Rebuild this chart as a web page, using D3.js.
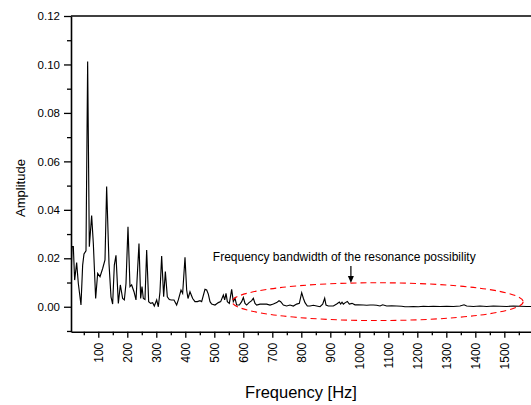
<!DOCTYPE html>
<html>
<head>
<meta charset="utf-8">
<script src="https://cdn.jsdelivr.net/npm/d3@7"></script>
<style>
  html, body { margin: 0; padding: 0; background: #fff; }
  svg { display: block; }
  text { font-family: "Liberation Sans", Arial, sans-serif; fill: #000; }
</style>
</head>
<body>
<svg id="chart" width="531" height="405"></svg>
<script>
// ---- data ----
const freq = [5.9, 9.3, 13.9, 18.5, 25.4, 31.1, 40.3, 46.1, 50.7, 57.6, 63.3, 69.1, 77.1, 82.9, 90.9, 97.8,
  105.9, 115.1, 123.1, 128.8, 136.9, 143.8, 149.5, 155.3, 161.0, 169.1, 176.0, 184.0, 189.8, 195.5,
  202.4, 209.3, 215.0, 223.1, 230.0, 240.3, 246.1, 250.7, 255.3, 261.0, 266.8, 273.7, 280.6, 287.5,
  293.2, 301.3, 307.0, 312.7, 318.5, 325.4, 331.2, 338.0, 344.9, 351.8, 361.0, 370.2, 376.0, 385.2,
  390.9, 399.0, 404.7, 409.3, 416.2, 425.4, 433.4, 441.5, 450.7, 456.4, 467.9, 473.7, 479.4, 485.2,
  490.9, 502.4, 513.9, 522.0, 531.2, 535.8, 540.4, 545.0, 551.9, 559.9, 565.6, 571.4, 577.1, 586.3,
  594.4, 600.1, 605.9, 611.6, 619.7, 628.9, 634.6, 640.4, 646.1, 657.6, 669.1, 680.6, 692.1, 703.6,
  715.1, 723.1, 728.9, 738.1, 749.5, 761.0, 772.5, 784.0, 793.2, 801.3, 807.0, 812.8, 820.8, 830.0,
  841.5, 853.0, 864.5, 873.7, 880.6, 885.2, 893.2, 901.3, 910.5, 922.0, 931.2, 935.7, 940.4, 945.0,
  951.8, 958.7, 965.6, 974.8, 985.2, 996.7, 1013.9, 1025.4, 1036.9, 1048.4, 1059.9, 1071.4, 1080.6,
  1094.4, 1111.6, 1128.9, 1146.1, 1157.6, 1169.1, 1186.3, 1203.6, 1220.8, 1238.0, 1255.3, 1278.3,
  1301.3, 1324.2, 1347.2, 1361.0, 1370.2, 1393.2, 1416.2, 1439.2, 1462.1, 1485.1, 1508.1, 1531.1,
  1554.1, 1577.1, 1592.0];
const amplitude = [0.0103, 0.0248, 0.0248, 0.0110, 0.0182, 0.0097, 0.0007, 0.0172, 0.0218, 0.0231, 0.1012,
  0.0248, 0.0376, 0.0261, 0.0034, 0.0138, 0.0124, 0.0158, 0.0193, 0.0496, 0.0179, 0.0041, 0.0011,
  0.0172, 0.0212, 0.0014, 0.0090, 0.0034, 0.0028, 0.0096, 0.0330, 0.0083, 0.0090, 0.0062, 0.0028,
  0.0261, 0.0034, 0.0083, 0.0034, 0.0030, 0.0234, 0.0021, 0.0014, 0.0017, 0.0003, 0.0028, 0.0000,
  0.0062, 0.0209, 0.0041, 0.0145, 0.0041, 0.0030, 0.0028, 0.0028, 0.0007, 0.0028, 0.0069, 0.0055,
  0.0204, 0.0069, 0.0034, 0.0062, 0.0034, 0.0021, 0.0021, 0.0025, 0.0021, 0.0072, 0.0069, 0.0052,
  0.0021, 0.0011, 0.0007, 0.0017, 0.0021, 0.0048, 0.0028, 0.0055, 0.0021, 0.0014, 0.0072, 0.0021,
  0.0035, 0.0007, 0.0007, 0.0021, 0.0038, 0.0014, 0.0007, 0.0017, 0.0025, 0.0035, 0.0014, 0.0007,
  0.0011, 0.0011, 0.0011, 0.0007, 0.0011, 0.0017, 0.0025, 0.0021, 0.0007, 0.0003, 0.0007, 0.0003,
  0.0011, 0.0014, 0.0058, 0.0035, 0.0017, 0.0003, 0.0003, 0.0006, 0.0003, 0.0000, 0.0011, 0.0035,
  0.0007, 0.0003, 0.0003, 0.0003, 0.0011, 0.0019, 0.0011, 0.0019, 0.0011, 0.0017, 0.0022, 0.0011,
  0.0014, 0.0008, 0.0008, 0.0007, 0.0006, 0.0007, 0.0007, 0.0006, 0.0003, 0.0008, 0.0003, 0.0004,
  0.0003, 0.0002, 0.0000, 0.0000, 0.0001, 0.0000, 0.0002, 0.0001, 0.0002, 0.0001, 0.0002, 0.0001,
  0.0003, 0.0008, 0.0003, 0.0001, 0.0003, 0.0001, 0.0003, 0.0002, 0.0001, 0.0003, 0.0002, 0.0001,
  0.0001];
const xMajorTicks = [100, 200, 300, 400, 500, 600, 700, 800, 900, 1000, 1100, 1200, 1300, 1400, 1500];
const xMinorTicks = [50, 150, 250, 350, 450, 550, 650, 750, 850, 950, 1050, 1150, 1250, 1350, 1450, 1550];
const yMajorTicks = [0.00, 0.02, 0.04, 0.06, 0.08, 0.10, 0.12];
const yMinorTicks = [-0.01, 0.01, 0.03, 0.05, 0.07, 0.09, 0.11];
const xDomain = [5.9, 1592];
const yDomain = [-0.0103, 0.12];
const xTitle = "Frequency [Hz]";
const yTitle = "Amplitude";
const noteText = "Frequency bandwidth of the resonance possibility";
const noteAt = [495, 0.0187];          // text start (Hz, amplitude)
const arrowFrom = [971, 0.0168];       // arrow (Hz, amplitude)
const arrowTo = [971, 0.0098];
const bandCenter = [1063, 0.0021];     // dashed ellipse centre
const bandHalfWidth = 502;             // Hz
const bandHalfHeight = 0.0078;         // amplitude

// ---- layout ----
const mLeft = 71, mRight = 531, mTop = 16, mBottom = 331.7;
const svg = d3.select("#chart");
const x = d3.scaleLinear().domain(xDomain).range([mLeft, mRight]);
const y = d3.scaleLinear().domain(yDomain).range([mBottom, mTop]);

svg.append("defs").append("clipPath").attr("id", "plotclip")
  .append("rect").attr("x", mLeft).attr("y", mTop).attr("width", mRight - mLeft).attr("height", mBottom - mTop);

// line
const pts = freq.map((f, i) => [f, amplitude[i]]);
svg.append("path")
  .datum(pts)
  .attr("clip-path", "url(#plotclip)")
  .attr("fill", "none")
  .attr("stroke", "#000")
  .attr("stroke-width", 1.15)
  .attr("stroke-linejoin", "miter")
  .attr("d", d3.line().x(d => x(d[0])).y(d => y(d[1])));

// axes
const xAxis = d3.axisBottom(x).tickValues(xMajorTicks).tickSize(6).tickSizeOuter(0).tickFormat(d3.format("d"));
const gx = svg.append("g").attr("transform", `translate(0,${mBottom})`).call(xAxis);
gx.select(".domain").attr("stroke-width", 1.6);
gx.selectAll(".tick line").attr("stroke-width", 1.3);
gx.selectAll(".tick text")
  .attr("font-size", "12px")
  .attr("font-family", "Liberation Sans, Arial, sans-serif")
  .attr("transform", "rotate(-90)")
  .attr("text-anchor", "end")
  .attr("x", -11)
  .attr("y", 0)
  .attr("dy", "0.35em");
const gxm = svg.append("g").attr("transform", `translate(0,${mBottom})`)
  .call(d3.axisBottom(x).tickValues(xMinorTicks).tickSize(3.5).tickSizeOuter(0).tickFormat(""));
gxm.select(".domain").remove();
gxm.selectAll(".tick line").attr("stroke-width", 1.3);

const yAxis = d3.axisLeft(y).tickValues(yMajorTicks).tickSize(7).tickSizeOuter(0).tickFormat(d3.format(".2f"));
const gy = svg.append("g").attr("transform", `translate(${mLeft},0)`).call(yAxis);
gy.select(".domain").attr("stroke-width", 1.6);
gy.selectAll(".tick line").attr("stroke-width", 1.3);
gy.selectAll(".tick text")
  .attr("font-size", "11.5px")
  .attr("font-family", "Liberation Sans, Arial, sans-serif")
  .attr("x", -11);
const gym = svg.append("g").attr("transform", `translate(${mLeft},0)`)
  .call(d3.axisLeft(y).tickValues(yMinorTicks).tickSize(4).tickSizeOuter(0).tickFormat(""));
gym.select(".domain").remove();
gym.selectAll(".tick line").attr("stroke-width", 1.3);

// top frame line
svg.append("line").attr("x1", mLeft).attr("x2", mRight).attr("y1", y(yDomain[1])).attr("y2", y(yDomain[1]))
  .attr("stroke", "#000").attr("stroke-width", 1.6);

// titles
svg.append("text").attr("x", 301).attr("y", 398).attr("text-anchor", "middle")
  .attr("font-size", "16.5px").text(xTitle);
svg.append("text").attr("transform", "translate(25,188) rotate(-90)").attr("text-anchor", "middle")
  .attr("font-size", "13px").text(yTitle);

// annotation
svg.append("text").attr("x", x(noteAt[0])).attr("y", y(noteAt[1]))
  .attr("font-size", "12px").text(noteText);
const ax = x(arrowFrom[0]), ay1 = y(arrowFrom[1]), ay2 = y(arrowTo[1]);
svg.append("line").attr("x1", ax).attr("x2", ax).attr("y1", ay1).attr("y2", ay2 - 6)
  .attr("stroke", "#000").attr("stroke-width", 1.2);
svg.append("path").attr("d", `M${ax - 3},${ay2 - 7} L${ax + 3},${ay2 - 7} L${ax},${ay2} Z`).attr("fill", "#000");

svg.append("ellipse")
  .attr("cx", x(bandCenter[0])).attr("cy", y(bandCenter[1]))
  .attr("rx", x(bandCenter[0] + bandHalfWidth) - x(bandCenter[0]))
  .attr("ry", y(bandCenter[1] - bandHalfHeight) - y(bandCenter[1]))
  .attr("fill", "none").attr("stroke", "#ff0000").attr("stroke-width", 1.1)
  .attr("stroke-dasharray", "6,4");
</script>
</body>
</html>
